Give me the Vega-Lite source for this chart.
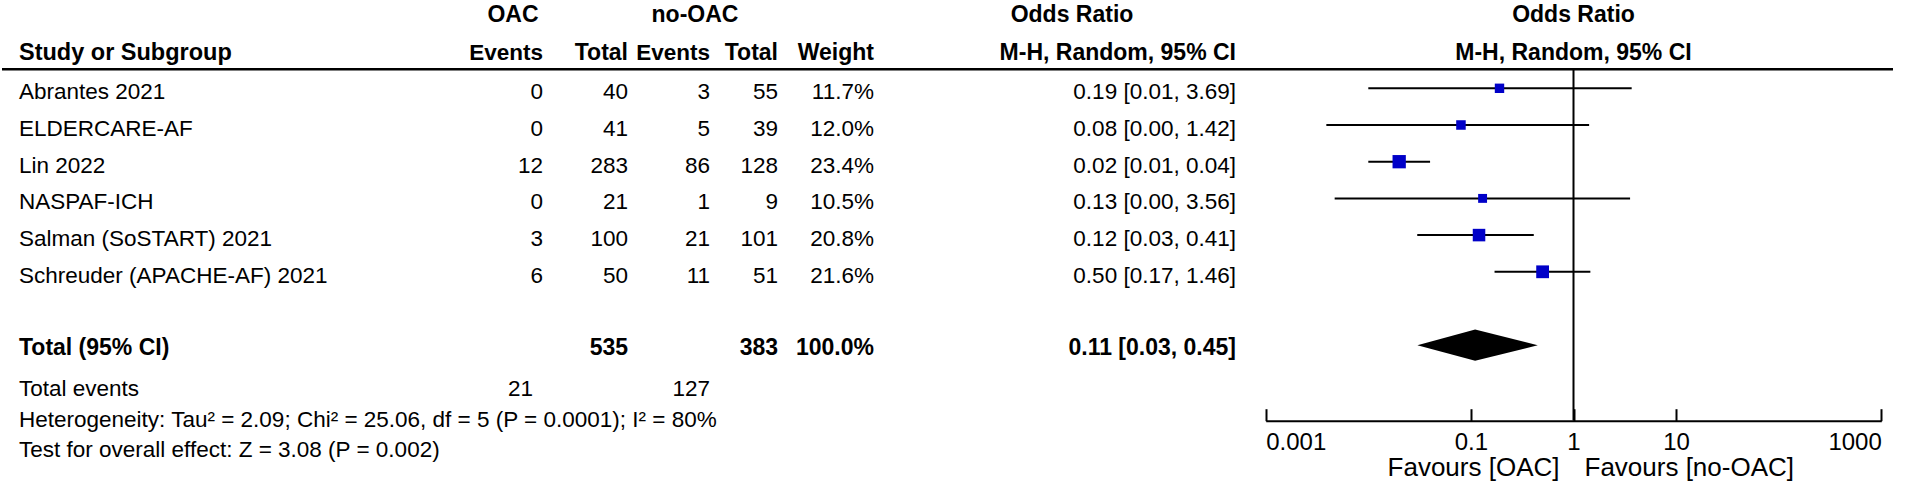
{
  "$schema": "https://vega.github.io/schema/vega-lite/v6.json",
  "background": "white",
  "padding": 0,
  "bounds": "flush",
  "spacing": 0,
  "datasets": {
    "studies": [
      {"study": "Abrantes 2021", "row": 0, "oac_e": 0, "oac_n": 40, "no_e": 3, "no_n": 55, "w": 0.117, "or": 0.19, "lo": 0.01, "hi": 3.69, "ci": "0.19 [0.01, 3.69]"},
      {"study": "ELDERCARE-AF", "row": 1, "oac_e": 0, "oac_n": 41, "no_e": 5, "no_n": 39, "w": 0.12, "or": 0.08, "lo": 0.0039, "hi": 1.42, "ci": "0.08 [0.00, 1.42]"},
      {"study": "Lin 2022", "row": 2, "oac_e": 12, "oac_n": 283, "no_e": 86, "no_n": 128, "w": 0.234, "or": 0.02, "lo": 0.01, "hi": 0.04, "ci": "0.02 [0.01, 0.04]"},
      {"study": "NASPAF-ICH", "row": 3, "oac_e": 0, "oac_n": 21, "no_e": 1, "no_n": 9, "w": 0.105, "or": 0.13, "lo": 0.0047, "hi": 3.56, "ci": "0.13 [0.00, 3.56]"},
      {"study": "Salman (SoSTART) 2021", "row": 4, "oac_e": 3, "oac_n": 100, "no_e": 21, "no_n": 101, "w": 0.208, "or": 0.12, "lo": 0.03, "hi": 0.41, "ci": "0.12 [0.03, 0.41]"},
      {"study": "Schreuder (APACHE-AF) 2021", "row": 5, "oac_e": 6, "oac_n": 50, "no_e": 11, "no_n": 51, "w": 0.216, "or": 0.5, "lo": 0.17, "hi": 1.46, "ci": "0.50 [0.17, 1.46]"}
    ],
    "total": [
      {"label": "Total (95% CI)", "row": 7, "oac_n": 535, "no_n": 383, "w": 1, "or": 0.11, "lo": 0.03, "hi": 0.45, "ci": "0.11 [0.03, 0.45]"}
    ],
    "events": [
      {"label": "Total events", "row": 8.2, "oac_e": 21, "no_e": 127}
    ],
    "notes": [
      {"text": "Heterogeneity: Tau² = 2.09; Chi² = 25.06, df = 5 (P = 0.0001); I² = 80%", "row": 9.05},
      {"text": "Test for overall effect: Z = 3.08 (P = 0.002)", "row": 9.85}
    ],
    "headers": [
      {"col": "study", "row": -0.95, "text": "Study or Subgroup"},
      {"col": "oac", "row": -2, "text": "OAC"},
      {"col": "oacE", "row": -0.95, "text": "Events"},
      {"col": "oacN", "row": -0.95, "text": "Total"},
      {"col": "no", "row": -2, "text": "no-OAC"},
      {"col": "noE", "row": -0.95, "text": "Events"},
      {"col": "noN", "row": -0.95, "text": "Total"},
      {"col": "wt", "row": -0.95, "text": "Weight"},
      {"col": "or1", "row": -2, "text": "Odds Ratio"},
      {"col": "or2", "row": -0.95, "text": "M-H, Random, 95% CI"},
      {"col": "plot", "row": -2, "text": "Odds Ratio"},
      {"col": "plot", "row": -0.95, "text": "M-H, Random, 95% CI"}
    ],
    "favours": [
      {"text": "Favours [OAC]", "side": "left", "or": 1, "row": 10.35},
      {"text": "Favours [no-OAC]", "side": "right", "or": 1, "row": 10.35}
    ],
    "nullline": [{"or": 1}],
    "one": [{"k": 1}]
  },
  "hconcat": [
    {
      "width": 541, "height": 494,
      "layer": [
        {"data": {"name": "one"}, "mark": {"type": "rule", "strokeWidth": 2.5, "color": "#000"},
         "encoding": {"y": {"datum": -0.518, "type": "quantitative", "scale": {"domain": [-2.406, 11.055], "reverse": true, "nice": false, "zero": false}, "axis": null}}},
        {"data": {"name": "headers"}, "transform": [{"filter": "datum.col === 'study'"}],
         "mark": {"type": "text", "fontWeight": "bold", "fontSize": 23.5, "align": "left", "dx": 17},
         "encoding": {"x": {"datum": 0, "type": "quantitative", "scale": {"domain": [0, 1], "nice": false, "zero": false}, "axis": null},
                      "y": {"field": "row", "type": "quantitative", "axis": null}, "text": {"field": "text"}}},
        {"data": {"name": "headers"}, "transform": [{"filter": "datum.col === 'oac'"}],
         "mark": {"type": "text", "fontWeight": "bold", "fontSize": 23, "align": "center", "dx": -30},
         "encoding": {"x": {"datum": 1, "type": "quantitative", "axis": null}, "y": {"field": "row", "type": "quantitative", "axis": null}, "text": {"field": "text"}}},
        {"data": {"name": "headers"}, "transform": [{"filter": "datum.col === 'oacE'"}],
         "mark": {"type": "text", "fontWeight": "bold", "fontSize": 22.5, "align": "right"},
         "encoding": {"x": {"datum": 1, "type": "quantitative", "axis": null}, "y": {"field": "row", "type": "quantitative", "axis": null}, "text": {"field": "text"}}},
        {"data": {"name": "studies"},
         "mark": {"type": "text", "align": "left", "dx": 17, "dy": 4},
         "encoding": {"x": {"datum": 0, "type": "quantitative", "axis": null}, "y": {"field": "row", "type": "quantitative", "axis": null}, "text": {"field": "study"}}},
        {"data": {"name": "studies"},
         "mark": {"type": "text", "align": "right", "dy": 4},
         "encoding": {"x": {"datum": 1, "type": "quantitative", "axis": null}, "y": {"field": "row", "type": "quantitative", "axis": null}, "text": {"field": "oac_e", "type": "nominal"}}},
        {"data": {"name": "total"},
         "mark": {"type": "text", "fontWeight": "bold", "fontSize": 23, "align": "left", "dx": 17, "dy": 3},
         "encoding": {"x": {"datum": 0, "type": "quantitative", "axis": null}, "y": {"field": "row", "type": "quantitative", "axis": null}, "text": {"field": "label"}}},
        {"data": {"name": "events"},
         "mark": {"type": "text", "align": "left", "dx": 17},
         "encoding": {"x": {"datum": 0, "type": "quantitative", "axis": null}, "y": {"field": "row", "type": "quantitative", "axis": null}, "text": {"field": "label"}}},
        {"data": {"name": "events"},
         "mark": {"type": "text", "align": "right", "dx": -10},
         "encoding": {"x": {"datum": 1, "type": "quantitative", "axis": null}, "y": {"field": "row", "type": "quantitative", "axis": null}, "text": {"field": "oac_e", "type": "nominal"}}},
        {"data": {"name": "notes"},
         "mark": {"type": "text", "align": "left", "dx": 17},
         "encoding": {"x": {"datum": 0, "type": "quantitative", "axis": null}, "y": {"field": "row", "type": "quantitative", "axis": null}, "text": {"field": "text"}}}
      ]
    },
    {
      "width": 85, "height": 494,
      "layer": [
        {"data": {"name": "one"}, "mark": {"type": "rule", "strokeWidth": 2.5, "color": "#000"},
         "encoding": {"y": {"datum": -0.518, "type": "quantitative", "scale": {"domain": [-2.406, 11.055], "reverse": true, "nice": false, "zero": false}, "axis": null}}},
        {"data": {"name": "headers"}, "transform": [{"filter": "datum.col === 'oacN'"}],
         "mark": {"type": "text", "fontWeight": "bold", "fontSize": 23, "align": "right"},
         "encoding": {"x": {"datum": 1, "type": "quantitative", "scale": {"domain": [0, 1], "nice": false, "zero": false}, "axis": null},
                      "y": {"field": "row", "type": "quantitative", "axis": null}, "text": {"field": "text"}}},
        {"data": {"name": "studies"},
         "mark": {"type": "text", "align": "right", "dy": 4},
         "encoding": {"x": {"datum": 1, "type": "quantitative", "axis": null}, "y": {"field": "row", "type": "quantitative", "axis": null}, "text": {"field": "oac_n", "type": "nominal"}}},
        {"data": {"name": "total"},
         "mark": {"type": "text", "fontWeight": "bold", "fontSize": 23, "align": "right", "dy": 3},
         "encoding": {"x": {"datum": 1, "type": "quantitative", "axis": null}, "y": {"field": "row", "type": "quantitative", "axis": null}, "text": {"field": "oac_n", "type": "nominal"}}}
      ]
    },
    {
      "width": 82, "height": 494,
      "layer": [
        {"data": {"name": "one"}, "mark": {"type": "rule", "strokeWidth": 2.5, "color": "#000"},
         "encoding": {"y": {"datum": -0.518, "type": "quantitative", "scale": {"domain": [-2.406, 11.055], "reverse": true, "nice": false, "zero": false}, "axis": null}}},
        {"data": {"name": "headers"}, "transform": [{"filter": "datum.col === 'no'"}],
         "mark": {"type": "text", "fontWeight": "bold", "fontSize": 23, "align": "center", "dx": -15},
         "encoding": {"x": {"datum": 1, "type": "quantitative", "scale": {"domain": [0, 1], "nice": false, "zero": false}, "axis": null},
                      "y": {"field": "row", "type": "quantitative", "axis": null}, "text": {"field": "text"}}},
        {"data": {"name": "headers"}, "transform": [{"filter": "datum.col === 'noE'"}],
         "mark": {"type": "text", "fontWeight": "bold", "fontSize": 22.5, "align": "right"},
         "encoding": {"x": {"datum": 1, "type": "quantitative", "axis": null}, "y": {"field": "row", "type": "quantitative", "axis": null}, "text": {"field": "text"}}},
        {"data": {"name": "studies"},
         "mark": {"type": "text", "align": "right", "dy": 4},
         "encoding": {"x": {"datum": 1, "type": "quantitative", "axis": null}, "y": {"field": "row", "type": "quantitative", "axis": null}, "text": {"field": "no_e", "type": "nominal"}}},
        {"data": {"name": "events"},
         "mark": {"type": "text", "align": "right"},
         "encoding": {"x": {"datum": 1, "type": "quantitative", "axis": null}, "y": {"field": "row", "type": "quantitative", "axis": null}, "text": {"field": "no_e", "type": "nominal"}}}
      ]
    },
    {
      "width": 68, "height": 494,
      "layer": [
        {"data": {"name": "one"}, "mark": {"type": "rule", "strokeWidth": 2.5, "color": "#000"},
         "encoding": {"y": {"datum": -0.518, "type": "quantitative", "scale": {"domain": [-2.406, 11.055], "reverse": true, "nice": false, "zero": false}, "axis": null}}},
        {"data": {"name": "headers"}, "transform": [{"filter": "datum.col === 'noN'"}],
         "mark": {"type": "text", "fontWeight": "bold", "fontSize": 23, "align": "right"},
         "encoding": {"x": {"datum": 1, "type": "quantitative", "scale": {"domain": [0, 1], "nice": false, "zero": false}, "axis": null},
                      "y": {"field": "row", "type": "quantitative", "axis": null}, "text": {"field": "text"}}},
        {"data": {"name": "studies"},
         "mark": {"type": "text", "align": "right", "dy": 4},
         "encoding": {"x": {"datum": 1, "type": "quantitative", "axis": null}, "y": {"field": "row", "type": "quantitative", "axis": null}, "text": {"field": "no_n", "type": "nominal"}}},
        {"data": {"name": "total"},
         "mark": {"type": "text", "fontWeight": "bold", "fontSize": 23, "align": "right", "dy": 3},
         "encoding": {"x": {"datum": 1, "type": "quantitative", "axis": null}, "y": {"field": "row", "type": "quantitative", "axis": null}, "text": {"field": "no_n", "type": "nominal"}}}
      ]
    },
    {
      "width": 96, "height": 494,
      "layer": [
        {"data": {"name": "one"}, "mark": {"type": "rule", "strokeWidth": 2.5, "color": "#000"},
         "encoding": {"y": {"datum": -0.518, "type": "quantitative", "scale": {"domain": [-2.406, 11.055], "reverse": true, "nice": false, "zero": false}, "axis": null}}},
        {"data": {"name": "headers"}, "transform": [{"filter": "datum.col === 'wt'"}],
         "mark": {"type": "text", "fontWeight": "bold", "fontSize": 23, "align": "right"},
         "encoding": {"x": {"datum": 1, "type": "quantitative", "scale": {"domain": [0, 1], "nice": false, "zero": false}, "axis": null},
                      "y": {"field": "row", "type": "quantitative", "axis": null}, "text": {"field": "text"}}},
        {"data": {"name": "studies"},
         "mark": {"type": "text", "align": "right", "dy": 4},
         "encoding": {"x": {"datum": 1, "type": "quantitative", "axis": null}, "y": {"field": "row", "type": "quantitative", "axis": null}, "text": {"field": "w", "type": "quantitative", "format": ".1%"}}},
        {"data": {"name": "total"},
         "mark": {"type": "text", "fontWeight": "bold", "fontSize": 23, "align": "right", "dy": 3},
         "encoding": {"x": {"datum": 1, "type": "quantitative", "axis": null}, "y": {"field": "row", "type": "quantitative", "axis": null}, "text": {"field": "w", "type": "quantitative", "format": ".1%"}}}
      ]
    },
    {
      "width": 364, "height": 494,
      "layer": [
        {"data": {"name": "one"}, "mark": {"type": "rule", "strokeWidth": 2.5, "color": "#000"},
         "encoding": {"y": {"datum": -0.518, "type": "quantitative", "scale": {"domain": [-2.406, 11.055], "reverse": true, "nice": false, "zero": false}, "axis": null}}},
        {"data": {"name": "headers"}, "transform": [{"filter": "datum.col === 'or1'"}],
         "mark": {"type": "text", "fontWeight": "bold", "fontSize": 23, "align": "center", "dx": -166},
         "encoding": {"x": {"datum": 1, "type": "quantitative", "scale": {"domain": [0, 1], "nice": false, "zero": false}, "axis": null},
                      "y": {"field": "row", "type": "quantitative", "axis": null}, "text": {"field": "text"}}},
        {"data": {"name": "headers"}, "transform": [{"filter": "datum.col === 'or2'"}],
         "mark": {"type": "text", "fontWeight": "bold", "fontSize": 23, "align": "right", "dx": -2},
         "encoding": {"x": {"datum": 1, "type": "quantitative", "axis": null}, "y": {"field": "row", "type": "quantitative", "axis": null}, "text": {"field": "text"}}},
        {"data": {"name": "studies"},
         "mark": {"type": "text", "align": "right", "dy": 4, "dx": -2},
         "encoding": {"x": {"datum": 1, "type": "quantitative", "axis": null}, "y": {"field": "row", "type": "quantitative", "axis": null}, "text": {"field": "ci"}}},
        {"data": {"name": "total"},
         "mark": {"type": "text", "fontWeight": "bold", "fontSize": 23, "align": "right", "dy": 3, "dx": -2},
         "encoding": {"x": {"datum": 1, "type": "quantitative", "axis": null}, "y": {"field": "row", "type": "quantitative", "axis": null}, "text": {"field": "ci"}}}
      ]
    },
    {
      "width": 655, "height": 494,
      "layer": [
        {"data": {"name": "one"}, "mark": {"type": "rule", "strokeWidth": 2.5, "color": "#000"},
         "encoding": {"y": {"datum": -0.518, "type": "quantitative", "scale": {"domain": [-2.406, 11.055], "reverse": true, "nice": false, "zero": false}, "axis": null}}},
        {"data": {"name": "studies"},
         "mark": {"type": "rule", "strokeWidth": 2, "color": "#000"},
         "encoding": {
           "x": {"field": "lo", "type": "quantitative",
                 "scale": {"type": "log", "domain": [0.001, 1000], "range": [27.7, 643.3], "nice": false},
                 "axis": {"orient": "bottom", "offset": -73.3, "values": [0.001, 0.1, 1, 10, 1000], "format": "~g", "labelFlush": true,
                          "tickSize": -12, "labelPadding": 22, "tickWidth": 2, "tickColor": "#000", "domainWidth": 2, "domainColor": "#000",
                          "labelFont": "Liberation Sans", "labelFontSize": 24, "labelColor": "#000", "title": null, "grid": false}},
           "x2": {"field": "hi"},
           "y": {"field": "row", "type": "quantitative", "axis": null}
         }},
        {"data": {"name": "nullline"}, "mark": {"type": "rule", "strokeWidth": 2, "color": "#000"},
         "encoding": {"x": {"field": "or", "type": "quantitative"}, "y": {"datum": -0.518, "type": "quantitative", "axis": null}, "y2": {"datum": 9.05}}},
        {"data": {"name": "studies"},
         "mark": {"type": "square", "filled": true, "color": "#0000c8", "opacity": 1},
         "encoding": {
           "x": {"field": "or", "type": "quantitative"},
           "y": {"field": "row", "type": "quantitative", "axis": null},
           "size": {"field": "w", "type": "quantitative", "scale": {"domain": [0, 1], "range": [0, 756], "zero": true}, "legend": null}
         }},
        {"data": {"name": "total"},
         "mark": {"type": "point", "shape": "M-0.96,0L0,-0.26L1.04,0L0,0.26Z", "filled": true, "color": "#000", "opacity": 1, "size": 14496},
         "encoding": {
           "x": {"field": "or", "type": "quantitative"},
           "y": {"field": "row", "type": "quantitative", "axis": null}
         }},
        {"data": {"name": "headers"}, "transform": [{"filter": "datum.col === 'plot'"}],
         "mark": {"type": "text", "fontWeight": "bold", "fontSize": 23, "align": "center"},
         "encoding": {"x": {"datum": 1, "type": "quantitative"}, "y": {"field": "row", "type": "quantitative", "axis": null}, "text": {"field": "text"}}},
        {"data": {"name": "favours"}, "transform": [{"filter": "datum.side === 'left'"}],
         "mark": {"type": "text", "align": "right", "dx": -14, "fontSize": 26},
         "encoding": {"x": {"field": "or", "type": "quantitative"}, "y": {"field": "row", "type": "quantitative", "axis": null}, "text": {"field": "text"}}},
        {"data": {"name": "favours"}, "transform": [{"filter": "datum.side === 'right'"}],
         "mark": {"type": "text", "align": "left", "dx": 11, "fontSize": 26},
         "encoding": {"x": {"field": "or", "type": "quantitative"}, "y": {"field": "row", "type": "quantitative", "axis": null}, "text": {"field": "text"}}}
      ]
    }
  ],
  "config": {
    "view": {"stroke": null},
    "text": {"font": "Liberation Sans", "fontSize": 22.5, "color": "#000", "baseline": "middle"}
  }
}
